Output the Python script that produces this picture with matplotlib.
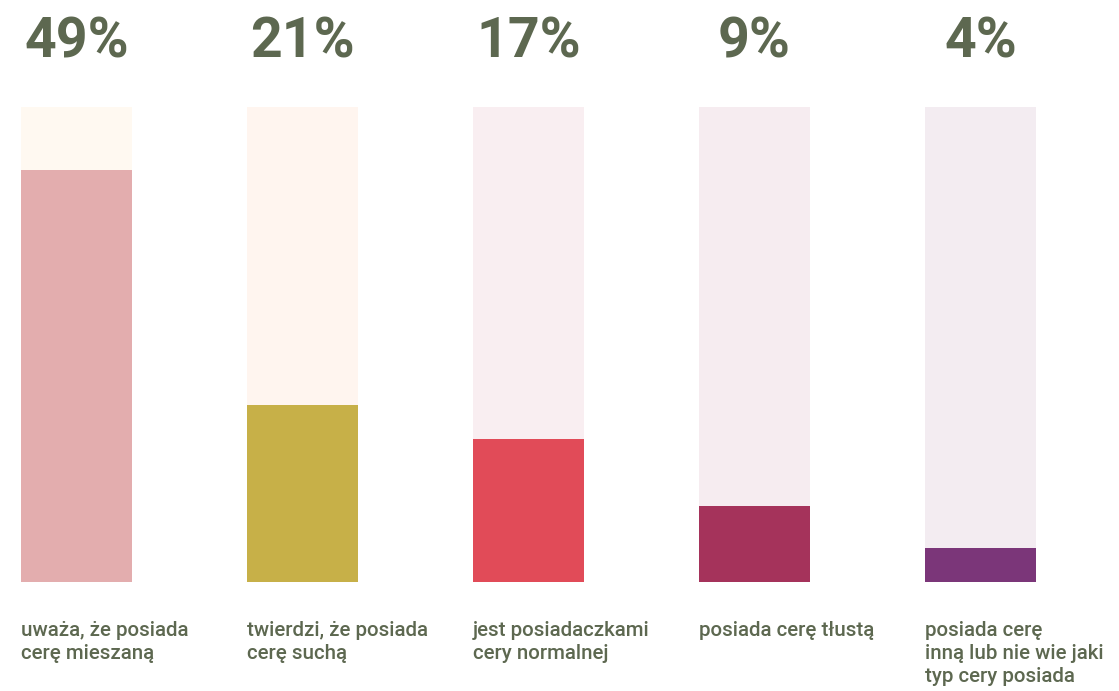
import numpy as np
from matplotlib import pyplot as plt

procenty = [49, 21, 17, 9, 4]
etykiety = ["uważa, że posiada\ncerę mieszaną",
            "twierdzi, że posiada\ncerę suchą",
            "jest posiadaczkami\ncery normalnej",
            "posiada cerę tłustą",
            "posiada cerę\ninną lub nie wie jaki\ntyp cery posiada"]
kolory = ["#E3ADAE", "#C7B048", "#E14B58", "#A5335B", "#7B3679"]
tla = ["#FFF9F1", "#FFF5EF", "#F9EEF1", "#F6ECF0", "#F3ECF1"]
skala = 56.5
tekst = "#5D6850"

plt.rcParams['font.family'] = ['Roboto', 'DejaVu Sans']

fig = plt.figure(figsize=(11.19, 6.91), dpi=100)
ax = fig.add_axes([0, 1 - 582 / 691, 1, 475 / 691])
x = np.arange(len(procenty))
szer = 111 / 226

ax.bar(x, [skala] * len(x), width=szer, color=tla)
ax.bar(x, procenty, width=szer, color=kolory)

for i in range(len(x)):
    ax.annotate(f"{procenty[i]}%", xy=(x[i], skala), xytext=(0, 36),
                textcoords="offset points", ha="center", va="baseline",
                fontsize=40, fontweight="bold", color=tekst)
    ax.annotate(etykiety[i], xy=(x[i] - szer / 2, 0), xytext=(0, -28),
                textcoords="offset points", ha="left", va="top",
                fontsize=14.8, fontweight="medium", color=tekst,
                linespacing=1.27)

ax.set_xlim(-76.5 / 226, (1119 - 76.5) / 226)
ax.set_ylim(0, skala)
ax.axis("off")

plt.savefig("out.png", dpi=100)
